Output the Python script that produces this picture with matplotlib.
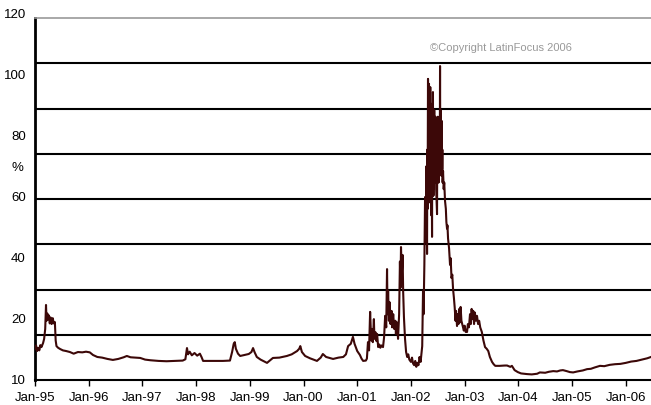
# 利率走势图 (1995-2006)
import matplotlib.pyplot as plt
import numpy as np

plt.rcParams['font.family'] = ['Liberation Sans', 'DejaVu Sans']

# 时间: 距 1995 年 1 月的年数; 数值: 纵轴单位
t_a = [0.00, 0.02, 0.04, 0.06, 0.08, 0.10, 0.12, 0.15, 0.17, 0.19, 0.205, 0.215, 0.23, 0.245,
       0.26, 0.275, 0.29, 0.31, 0.33, 0.35, 0.37, 0.385, 0.40, 0.43, 0.47, 0.52, 0.58, 0.65,
       0.72, 0.80, 0.88, 0.95, 1.02, 1.08, 1.16, 1.25, 1.35, 1.45, 1.55, 1.65, 1.71, 1.78,
       1.88, 1.96, 2.05, 2.15, 2.30, 2.45, 2.60, 2.75, 2.80, 2.83, 2.85, 2.88, 2.92, 2.97,
       3.02, 3.07, 3.10, 3.13, 3.30, 3.50, 3.63, 3.67, 3.70, 3.72, 3.74, 3.78, 3.82, 3.90,
       3.98, 4.03, 4.06, 4.09, 4.13, 4.20, 4.27, 4.32, 4.38, 4.43, 4.55, 4.69, 4.78, 4.88,
       4.92, 4.94, 4.97, 5.03, 5.12, 5.25, 5.32, 5.36, 5.42, 5.55, 5.65, 5.74, 5.79, 5.83,
       5.88, 5.92, 5.95, 6.00, 6.05, 6.08, 6.11, 6.16, 6.18, 6.20, 6.22, 6.24, 6.26, 6.27,
       6.29, 6.31, 6.32, 6.34, 6.36, 6.37, 6.39, 6.41, 6.43, 6.45, 6.48, 6.50, 6.52, 6.54,
       6.555, 6.565, 6.575, 6.59, 6.60, 6.62, 6.64, 6.65, 6.67, 6.69, 6.71, 6.72, 6.74, 6.76,
       6.78, 6.795, 6.805, 6.815, 6.83, 6.845, 6.855, 6.87, 6.89, 6.91, 6.93, 6.95, 6.97, 7.00,
       7.02, 7.04, 7.06, 7.08, 7.10, 7.12, 7.14, 7.16, 7.18, 7.20, 7.21, 7.225, 7.235, 7.25,
       7.263, 7.275, 7.29]
v_a = [19.4, 20.5, 18.8, 19.8, 19.0, 20.6, 20.0, 21.2, 22.5, 25.5, 32.8, 28.0, 30.2, 28.4,
       29.6, 27.2, 29.0, 27.0, 28.8, 27.2, 27.6, 22.0, 20.3, 19.8, 19.4, 19.0, 18.8, 18.5,
       18.0, 18.5, 18.4, 18.6, 18.4, 17.6, 17.0, 16.8, 16.4, 16.1, 16.4, 16.9, 17.3, 16.9,
       16.8, 16.7, 16.2, 16.0, 15.8, 15.7, 15.8, 15.9, 16.3, 19.7, 17.8, 18.6, 17.5, 18.2,
       17.4, 18.0, 17.0, 15.8, 15.8, 15.8, 15.9, 18.5, 21.0, 21.5, 19.5, 18.0, 17.3, 17.6,
       17.9, 18.5, 19.7, 18.4, 17.0, 16.2, 15.6, 15.2, 16.0, 16.7, 16.8, 17.3, 17.8, 18.8,
       19.5, 20.3, 18.5, 17.3, 16.6, 15.8, 16.8, 17.9, 17.0, 16.4, 16.8, 17.0, 17.8, 20.3,
       21.0, 23.1, 21.0, 18.8, 17.6, 16.5, 15.8, 15.9, 16.5, 21.5, 19.0, 30.7, 22.0, 25.5,
       21.5, 28.5, 22.5, 24.5, 21.8, 24.0, 20.0, 20.8, 19.8, 20.5, 20.0, 23.0, 29.5, 26.0,
       43.7, 30.0, 37.0, 28.0, 33.7, 27.0, 31.0, 26.0, 30.0, 25.5, 28.0, 24.0, 27.5, 22.5,
       30.0, 46.0, 38.0, 50.4, 42.0, 48.0, 37.0, 29.0, 22.5, 18.5, 17.0, 17.8, 16.2, 15.5,
       16.8, 15.0, 14.5, 15.8, 14.0, 15.2, 14.5, 17.0, 15.5, 18.5, 20.3, 37.0, 30.0, 45.0,
       65.6, 52.0, 75.0]

# 2002 年中的峰值区
t_b = [7.300, 7.305, 7.310, 7.315, 7.318, 7.321, 7.324, 7.327, 7.330, 7.333, 7.336, 7.339,
       7.342, 7.345, 7.348, 7.351, 7.354, 7.357, 7.360, 7.363, 7.366, 7.369, 7.372, 7.375,
       7.378, 7.382, 7.386, 7.393, 7.397, 7.400, 7.403, 7.406, 7.410, 7.413, 7.416, 7.419,
       7.422, 7.425, 7.428, 7.431, 7.434, 7.437, 7.440, 7.443, 7.446, 7.449, 7.455, 7.460,
       7.465, 7.470, 7.478, 7.486, 7.490, 7.495, 7.500, 7.505, 7.510, 7.515, 7.520, 7.525,
       7.530, 7.535, 7.539, 7.542, 7.546, 7.550, 7.554, 7.558, 7.562, 7.566, 7.570, 7.575,
       7.579, 7.585, 7.590, 7.598]
v_b = [48.3, 80.0, 62.0, 92.0, 101.5, 70.0, 96.0, 66.0, 90.0, 72.0, 100.0, 68.0,
       88.0, 64.0, 94.0, 70.0, 86.0, 66.0, 99.0, 68.0, 90.0, 64.0, 84.0, 62.0,
       88.0, 60.0, 80.0, 53.5, 84.0, 66.0, 94.0, 70.0, 97.5, 68.0, 88.0, 66.0,
       90.0, 70.0, 86.0, 72.0, 92.0, 74.0, 88.0, 70.0, 84.0, 76.0, 90.0, 72.0,
       80.0, 68.0, 64.0, 60.4, 78.0, 70.0, 90.0, 74.0, 88.0, 70.0, 86.0, 74.0,
       90.0, 76.0, 88.0, 105.4, 80.0, 92.0, 78.0, 90.0, 74.0, 86.0, 72.0, 88.7,
       74.0, 80.0, 70.0, 73.5]

t_c = [7.61, 7.62, 7.635, 7.65, 7.66, 7.672, 7.68,
       7.691, 7.71, 7.728, 7.74, 7.755, 7.77, 7.784, 7.80, 7.815, 7.83, 7.84, 7.858, 7.87,
       7.885, 7.90, 7.91, 7.925, 7.94, 7.955, 7.97, 7.985, 8.00, 8.02, 8.045, 8.06, 8.08,
       8.10, 8.115, 8.13, 8.145, 8.16, 8.175, 8.19, 8.21, 8.23, 8.25, 8.27, 8.29, 8.32, 8.35,
       8.38, 8.41, 8.44, 8.47, 8.51, 8.54, 8.57, 8.65, 8.75, 8.79, 8.85, 8.88, 8.93, 8.99,
       9.05, 9.16, 9.25, 9.35, 9.40, 9.50, 9.57, 9.65, 9.72, 9.78, 9.83, 9.90, 9.96, 10.02,
       10.10, 10.20, 10.28, 10.35, 10.42, 10.52, 10.60, 10.70, 10.80, 10.90, 11.00, 11.10,
       11.20, 11.30, 11.40, 11.47]
v_c = [68.0, 70.0, 64.4, 62.0, 58.0, 56.0, 57.0,
       53.0, 50.0, 45.0, 47.0, 41.0, 42.0, 37.7, 35.0, 32.0, 28.0, 31.0, 26.4, 30.0,
       27.0, 31.6, 27.5, 32.2, 28.0, 27.0, 26.0, 25.0, 26.5, 24.6, 24.6, 27.0, 26.0,
       30.0, 27.0, 31.6, 28.5, 31.0, 27.0, 30.5, 28.0, 29.5, 27.0, 28.0, 26.0, 24.6, 22.0,
       20.0, 19.5, 18.8, 17.0, 15.5, 14.8, 14.3, 14.3, 14.4, 14.4, 14.0, 14.3, 13.0, 12.4,
       12.0, 11.8, 11.7, 11.9, 12.3, 12.2, 12.5, 12.7, 12.6, 12.9, 13.0, 12.7, 12.4, 12.3,
       12.6, 12.9, 13.3, 13.4, 13.8, 14.3, 14.2, 14.6, 14.8, 14.9, 15.2, 15.6,
       15.8, 16.2, 16.6, 17.0]

t = t_a + t_b + t_c
v = v_a + v_b + v_c

x_labels = ['Jan-95', 'Jan-96', 'Jan-97', 'Jan-98', 'Jan-99', 'Jan-00',
            'Jan-01', 'Jan-02', 'Jan-03', 'Jan-04', 'Jan-05', 'Jan-06']
y_labels = ['10', '20', '40', '60', '80', '100', '120']

fig = plt.figure(figsize=(6.51, 4.06), dpi=100)
ax = fig.add_axes([35 / 651, 25 / 406, 616 / 651, 362 / 406])

ax.set_ylim(10, 120)
ax.set_xlim(0, 11.47)

# 水平网格线
for g in np.linspace(10, 120, 9)[1:-1]:
    ax.axhline(g, color='black', linewidth=1.5, zorder=1)

ax.plot(t, v, color='#3c0808', linewidth=1.5, zorder=3)

ax.spines['right'].set_visible(False)
ax.spines['top'].set_color('#999999')
ax.spines['top'].set_linewidth(1.2)
ax.spines['left'].set_linewidth(2)
ax.spines['bottom'].set_linewidth(1.5)

ax.set_xticks(range(len(x_labels)))
ax.set_xticklabels(x_labels, fontsize=9.5)
ax.tick_params(axis='x', direction='out', length=4, width=1, pad=4)
ax.set_yticks([])

# 纵轴标签 (原图中与网格线不对齐)
for lab, yf in zip(y_labels, np.linspace(0.0, 1.011, len(y_labels))):
    ax.text(-0.015, yf, lab, transform=ax.transAxes, ha='right', va='center', fontsize=9.5)
ax.text(-0.028, 0.588, '%', transform=ax.transAxes, ha='center', va='center', fontsize=9.5)

ax.text(0.641, 0.92, '©Copyright LatinFocus 2006', transform=ax.transAxes,
        ha='left', va='center', fontsize=8, color='#999999')

plt.savefig('out.png', dpi=100)
